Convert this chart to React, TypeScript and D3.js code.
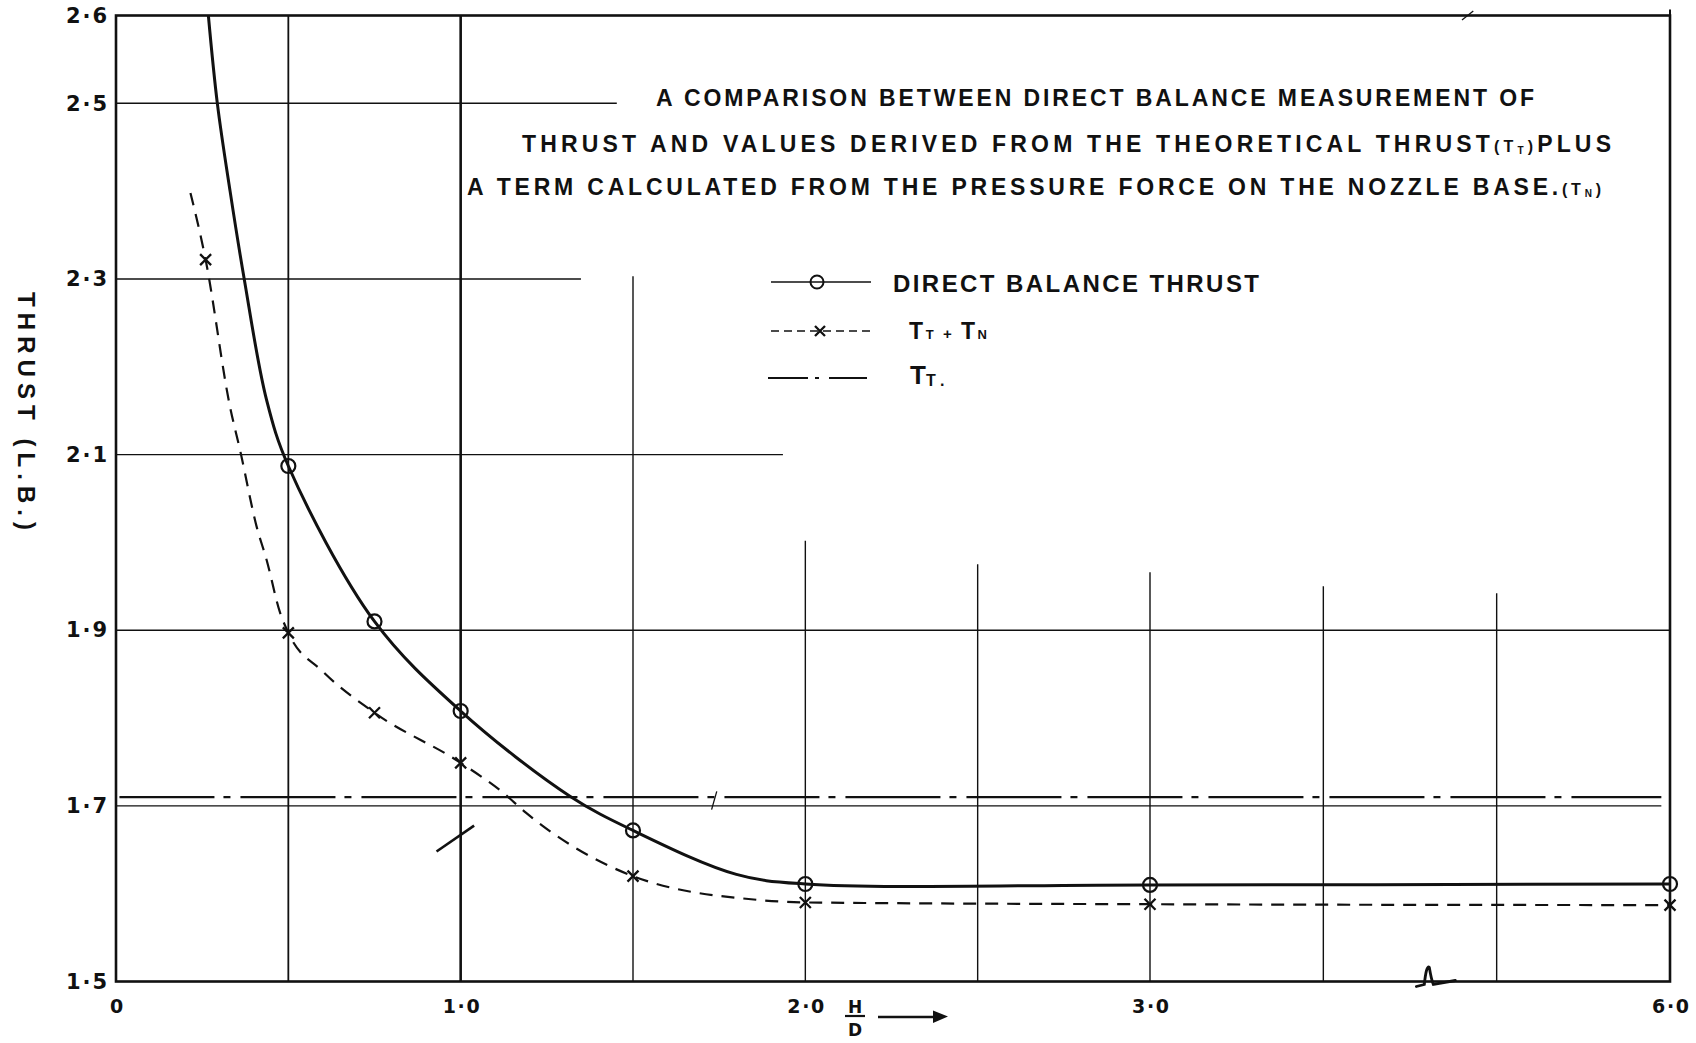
import React, { useEffect, useRef } from "react";
import * as d3 from "d3";

// H/D axis (broken between 3.0 and 6.0)
const hdTicks = [0, 1, 2, 3, 6];
const hdTickLabels = ["0", "1·0", "2·0", "3·0", "6·0"];
const hdRules = [0.5, 1, 1.5, 2, 2.5, 3, 4, 5];
const hdRuleTops = [2.6, 2.6, 2.303, 2.002, 1.975, 1.966, 1.95, 1.942];

// thrust axis
const thrustTicks = [2.6, 2.5, 2.3, 2.1, 1.9, 1.7, 1.5];
const thrustTickLabels = ["2·6", "2·5", "2·3", "2·1", "1·9", "1·7", "1·5"];
const thrustRules = [2.5, 2.3, 2.1, 1.9, 1.7];
const thrustRuleEnds = [1.453, 1.349, 1.935, 6, 5.95];

// direct balance thrust (circles)
const directHD = [0.5, 0.75, 1.0, 1.5, 2.0, 3.0, 6.0];
const directThrust = [2.087, 1.91, 1.808, 1.672, 1.611, 1.61, 1.611];
// extra points
const directCurveHD = [0.268, 0.294, 0.331, 0.372, 0.437, 1.317, 1.8];
const directCurveThrust = [2.6, 2.5, 2.4, 2.3, 2.162, 1.711, 1.622];

// T_T + T_N (crosses)
const sumHD = [0.26, 0.5, 0.75, 1.0, 1.5, 2.0, 3.0, 6.0];
const sumThrust = [2.322, 1.897, 1.806, 1.749, 1.62, 1.59, 1.588, 1.587];
const sumCurveHD = [0.216, 0.331, 0.36, 0.408, 0.437, 0.476, 0.6, 1.123, 1.19, 1.86];
const sumCurveThrust = [2.398, 2.154, 2.105, 2.018, 1.98, 1.92, 1.853, 1.715, 1.692, 1.593];

// T_T, theoretical thrust
const theoreticalThrust = 1.71;
const theoreticalHD = [0.01, 5.95];

const App = () => {
  const svgRef = useRef(null);

  useEffect(() => {
    const svg = d3.select(svgRef.current);
    svg.selectAll("*").remove();

    const ink = "#111";
    const font = "'Liberation Sans', Arial, sans-serif";
    const tickFont = "'DejaVu Sans', 'Liberation Sans', sans-serif";

    const x = d3.scaleLinear().domain([0, 3, 6]).range([116, 1150, 1670]);
    const y = d3.scaleLinear().domain([1.5, 2.6]).range([981.5, 15.5]);

    // grid rules
    const grid = svg.append("g").attr("stroke", ink).attr("fill", "none");
    grid
      .selectAll(".v-rule")
      .data(hdRules)
      .enter()
      .append("line")
      .attr("x1", (d) => x(d))
      .attr("x2", (d) => x(d))
      .attr("y1", (d, i) => y(hdRuleTops[i]))
      .attr("y2", y(1.5))
      .attr("stroke-width", (d) => (d === 1 ? 2.6 : d === 0.5 ? 1.8 : 1.4));
    grid
      .selectAll(".h-rule")
      .data(thrustRules)
      .enter()
      .append("line")
      .attr("x1", x(0))
      .attr("x2", (d, i) => x(thrustRuleEnds[i]))
      .attr("y1", (d) => y(d))
      .attr("y2", (d) => y(d))
      .attr("stroke-width", 1.4);

    // frame
    svg
      .append("rect")
      .attr("x", x(0))
      .attr("y", y(2.6))
      .attr("width", x(6) - x(0))
      .attr("height", y(1.5) - y(2.6))
      .attr("fill", "none")
      .attr("stroke", ink)
      .attr("stroke-width", 2.6);
    svg
      .append("line")
      .attr("x1", x(6))
      .attr("x2", x(6))
      .attr("y1", y(2.6) - 6)
      .attr("y2", y(2.6))
      .attr("stroke", ink)
      .attr("stroke-width", 2);

    // axes
    const yAxis = svg
      .append("g")
      .attr("transform", `translate(${x(0)},0)`)
      .call(
        d3
          .axisLeft(y)
          .tickValues(thrustTicks)
          .tickFormat((d, i) => thrustTickLabels[i])
          .tickSize(0)
          .tickPadding(9)
      );
    yAxis.select(".domain").remove();
    yAxis.attr("font-size", 21).attr("font-family", tickFont);
    yAxis
      .selectAll("text")
      .style("font-family", tickFont)
      .style("font-weight", "700")
      .style("font-size", "21px")
      .attr("fill", ink)
      .attr("textLength", 41)
      .attr("lengthAdjust", "spacing");

    const xAxis = svg
      .append("g")
      .attr("transform", `translate(0,${y(1.5)})`)
      .call(
        d3
          .axisBottom(x)
          .tickValues(hdTicks)
          .tickFormat((d, i) => hdTickLabels[i])
          .tickSize(0)
          .tickPadding(18)
      );
    xAxis.select(".domain").remove();
    xAxis.attr("font-size", 19).attr("font-family", tickFont);
    xAxis
      .selectAll("text")
      .style("font-family", tickFont)
      .style("font-weight", "700")
      .style("font-size", "19px")
      .attr("fill", ink);
    xAxis
      .selectAll("text")
      .filter((d) => d !== 0)
      .attr("textLength", 37)
      .attr("lengthAdjust", "spacing");

    // axis break mark on the H/D axis
    const bx = x(4.6);
    const by = y(1.5);
    svg
      .append("path")
      .attr(
        "d",
        `M${bx - 11},${by + 5} L${bx - 3},${by + 3} Q${bx - 1},${by - 17} ${bx + 2},${by - 14} Q${bx + 4},${by - 2} ${bx + 6},${by + 3} L${bx + 28},${by - 1}`
      )
      .attr("fill", "none")
      .attr("stroke", ink)
      .attr("stroke-width", 2.8)
      .attr("stroke-linecap", "round");

    // stray pen strokes on the sheet
    const strokes = [
      [0.93, 1.648, 1.039, 1.6775],
      [1.728, 1.6957, 1.743, 1.7165],
      [4.8, 2.595, 4.865, 2.605],
    ];
    svg
      .selectAll(".stray")
      .data(strokes)
      .enter()
      .append("line")
      .attr("x1", (d) => x(d[0]))
      .attr("y1", (d) => y(d[1]))
      .attr("x2", (d) => x(d[2]))
      .attr("y2", (d) => y(d[3]))
      .attr("stroke", ink)
      .attr("stroke-width", (d, i) => (i === 0 ? 2.6 : 1.3));

    // T_T line
    svg
      .append("line")
      .attr("x1", x(theoreticalHD[0]))
      .attr("x2", x(theoreticalHD[1]))
      .attr("y1", y(theoreticalThrust))
      .attr("y2", y(theoreticalThrust))
      .attr("stroke", ink)
      .attr("stroke-width", 2.4)
      .attr("stroke-dasharray", "95 9 7 10");

    const sumLine = d3
      .line()
      .x((d) => x(d[0]))
      .y((d) => y(d[1]))
      .curve(d3.curveMonotoneX);
    const directLine = d3
      .line()
      .x((d) => x(d[0]))
      .y((d) => y(d[1]))
      .curve(d3.curveCatmullRom.alpha(0.5));

    const sumPts = sumHD
      .map((h, i) => [h, sumThrust[i]])
      .concat(sumCurveHD.map((h, i) => [h, sumCurveThrust[i]]))
      .sort((a, b) => a[0] - b[0]);
    svg
      .append("path")
      .attr("d", sumLine(sumPts))
      .attr("fill", "none")
      .attr("stroke", ink)
      .attr("stroke-width", 2.2)
      .attr("stroke-dasharray", "13 9");

    const directPts = directHD
      .map((h, i) => [h, directThrust[i]])
      .concat(directCurveHD.map((h, i) => [h, directCurveThrust[i]]))
      .sort((a, b) => a[0] - b[0]);
    svg
      .append("path")
      .attr("d", directLine(directPts))
      .attr("fill", "none")
      .attr("stroke", ink)
      .attr("stroke-width", 3);

    // markers
    svg
      .selectAll(".direct-pt")
      .data(directHD)
      .enter()
      .append("circle")
      .attr("cx", (d) => x(d))
      .attr("cy", (d, i) => y(directThrust[i]))
      .attr("r", 7)
      .attr("fill", "none")
      .attr("stroke", ink)
      .attr("stroke-width", 2.2);

    const cross = (g, cx, cy, s) => {
      g.append("path")
        .attr("d", `M${cx - s},${cy - s} L${cx + s},${cy + s} M${cx + s},${cy - s} L${cx - s},${cy + s}`)
        .attr("stroke", ink)
        .attr("stroke-width", 2.3)
        .attr("fill", "none");
    };
    const crosses = svg.append("g");
    sumHD.forEach((h, i) => cross(crosses, x(h), y(sumThrust[i]), 5.5));

    // title
    const title = svg
      .append("g")
      .attr("font-family", font)
      .attr("font-weight", 700)
      .attr("font-size", 23)
      .attr("fill", ink);
    title
      .append("text")
      .attr("x", 656)
      .attr("y", 106)
      .attr("textLength", 878)
      .attr("lengthAdjust", "spacing")
      .text("A COMPARISON BETWEEN DIRECT BALANCE MEASUREMENT OF");
    const t2 = title
      .append("text")
      .attr("x", 522)
      .attr("y", 152)
      .attr("textLength", 1089)
      .attr("lengthAdjust", "spacing");
    t2.append("tspan").text("THRUST AND VALUES DERIVED FROM THE THEORETICAL THRUST");
    t2.append("tspan").attr("font-size", 16).text("(T");
    t2.append("tspan").attr("font-size", 10).attr("dy", 2).text("T");
    t2.append("tspan").attr("font-size", 16).attr("dy", -2).text(")");
    t2.append("tspan").text("PLUS");
    const t3 = title
      .append("text")
      .attr("x", 467)
      .attr("y", 195)
      .attr("textLength", 1134)
      .attr("lengthAdjust", "spacing");
    t3.append("tspan").text("A TERM CALCULATED FROM THE PRESSURE FORCE ON THE NOZZLE BASE.");
    t3.append("tspan").attr("font-size", 16).text("(T");
    t3.append("tspan").attr("font-size", 10).attr("dy", 2).text("N");
    t3.append("tspan").attr("font-size", 16).attr("dy", -2).text(")");

    // legend
    const lg = svg.append("g").attr("stroke", ink).attr("fill", "none");
    lg.append("line").attr("x1", 771).attr("x2", 871).attr("y1", 282).attr("y2", 282).attr("stroke-width", 1.6);
    lg.append("circle").attr("cx", 817).attr("cy", 282).attr("r", 6.5).attr("stroke-width", 2);
    lg.append("line")
      .attr("x1", 771)
      .attr("x2", 874)
      .attr("y1", 331)
      .attr("y2", 331)
      .attr("stroke-width", 1.6)
      .attr("stroke-dasharray", "8 5");
    cross(lg, 820, 331, 5);
    lg.append("line")
      .attr("x1", 768)
      .attr("x2", 867)
      .attr("y1", 378)
      .attr("y2", 378)
      .attr("stroke-width", 1.8)
      .attr("stroke-dasharray", "40 7 4 10");

    const lt = svg
      .append("g")
      .attr("font-family", font)
      .attr("font-weight", 700)
      .attr("fill", ink);
    lt.append("text")
      .attr("x", 893)
      .attr("y", 292)
      .attr("font-size", 24)
      .attr("textLength", 366)
      .attr("lengthAdjust", "spacing")
      .text("DIRECT BALANCE THRUST");
    const l2 = lt
      .append("text")
      .attr("x", 909)
      .attr("y", 339)
      .attr("font-size", 23)
      .attr("textLength", 78)
      .attr("lengthAdjust", "spacing");
    l2.append("tspan").text("T");
    l2.append("tspan").attr("font-size", 13).text("T");
    l2.append("tspan").attr("font-size", 15).text(" + ");
    l2.append("tspan").text("T");
    l2.append("tspan").attr("font-size", 13).text("N");
    const l3 = lt.append("text").attr("x", 910).attr("y", 384).attr("font-size", 26);
    l3.append("tspan").text("T");
    l3.append("tspan").attr("font-size", 16).attr("dy", 2).text("T .");

    // axis titles
    svg
      .append("text")
      .attr("transform", "translate(26,411) rotate(90)")
      .attr("text-anchor", "middle")
      .attr("dy", "0.35em")
      .attr("font-family", font)
      .attr("font-weight", 700)
      .attr("font-size", 24)
      .attr("fill", ink)
      .attr("textLength", 238)
      .attr("lengthAdjust", "spacing")
      .text("THRUST (L.B.)");

    const hd = svg
      .append("g")
      .attr("font-family", tickFont)
      .attr("font-weight", 700)
      .attr("font-size", 17)
      .attr("fill", ink)
      .attr("text-anchor", "middle");
    hd.append("text").attr("x", 855).attr("y", 1013).text("H");
    hd.append("line")
      .attr("x1", 845)
      .attr("x2", 865)
      .attr("y1", 1016)
      .attr("y2", 1016)
      .attr("stroke", ink)
      .attr("stroke-width", 2.2);
    hd.append("text").attr("x", 855).attr("y", 1036).text("D");
    hd.append("line")
      .attr("x1", 878)
      .attr("x2", 936)
      .attr("y1", 1017)
      .attr("y2", 1017)
      .attr("stroke", ink)
      .attr("stroke-width", 2.4);
    hd.append("path")
      .attr("d", "M933,1010.5 L948,1016.5 L933,1023 Z")
      .attr("fill", ink);
  }, []);

  return (
    <svg
      ref={svgRef}
      width={1696}
      height={1043}
      style={{ position: "absolute", left: 0, top: 0, background: "#fff" }}
    ></svg>
  );
};

export default App;
